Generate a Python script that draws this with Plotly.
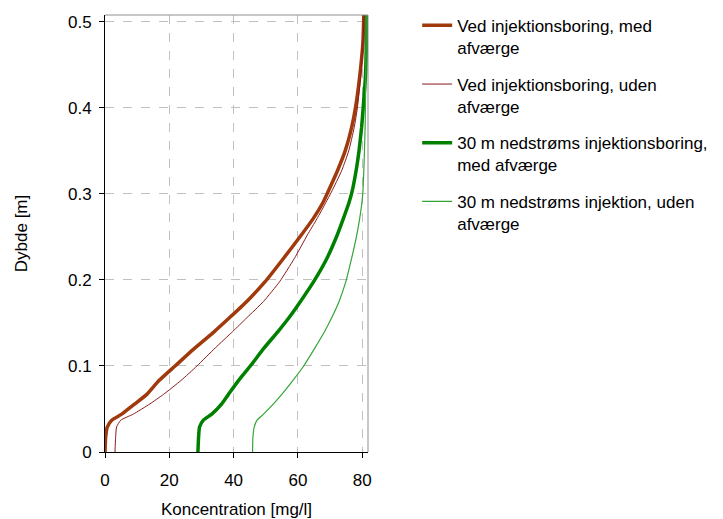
import plotly.graph_objects as go

# Depth below surface [m]
depth = [0.0, 0.017, 0.029, 0.037, 0.044, 0.056, 0.067, 0.083, 0.1, 0.121, 0.14,
         0.156, 0.175, 0.198, 0.225, 0.252, 0.271, 0.29, 0.302, 0.327, 0.35,
         0.377, 0.4, 0.436, 0.475, 0.508]

# Concentration [mg/l] at each depth
ved_med = [0.0, 0.2, 0.7, 2.1, 5.2, 9.3, 13.0, 16.8, 21.8, 28.0, 34.0,
           38.7, 44.1, 49.8, 55.5, 61.0, 64.7, 67.8, 69.3, 72.3, 74.7,
           76.7, 77.9, 79.2, 80.2, 80.5]
ved_uden = [3.1, 3.3, 3.6, 4.9, 8.8, 14.0, 18.2, 23.6, 28.6, 34.3, 39.7,
            44.1, 49.3, 54.3, 58.9, 62.9, 65.9, 68.7, 70.4, 73.6, 75.8,
            77.5, 78.5, 79.5, 80.2, 80.6]
ned_med = [28.9, 29.1, 29.4, 30.6, 33.2, 36.3, 38.4, 41.5, 45.2, 49.5, 53.8,
           57.2, 60.8, 64.9, 69.0, 72.2, 74.1, 75.9, 76.8, 78.1, 79.0,
           79.8, 80.3, 81.0, 81.3, 81.4]
ned_uden = [45.9, 46.0, 46.4, 47.3, 49.3, 52.4, 55.0, 58.4, 61.8, 65.3, 68.3,
            70.5, 72.8, 74.9, 76.7, 78.3, 79.2, 79.9, 80.2, 80.5, 80.7,
            80.9, 81.0, 81.1, 81.2, 81.2]

names = ["Ved injektionsboring, med<br>afværge",
         "Ved injektionsboring, uden<br>afværge",
         "30 m nedstrøms injektionsboring,<br>med afværge",
         "30 m nedstrøms injektion, uden<br>afværge"]
series = [ved_med, ved_uden, ned_med, ned_uden]
colors = ["#A03A0C", "#8B1A1A", "#008000", "#35A535"]
widths = [3.5, 1, 3.5, 1.2]

fig = go.Figure()
for i, (name, xs, c, w) in enumerate(zip(names, series, colors, widths)):
    fig.add_trace(go.Scatter(
        x=xs, y=depth, mode="lines", name=name,
        line=dict(color=c, width=w, shape="spline", smoothing=0.5),
        legendgroup=f"g{i}",
    ))

font = dict(family="Liberation Sans, Arial, sans-serif", size=17, color="#000000")

fig.update_layout(
    width=723, height=519,
    margin=dict(l=105, r=355, t=15, b=67),
    plot_bgcolor="white", paper_bgcolor="white",
    font=font,
    showlegend=True,
    legend=dict(
        xref="container", yref="container",
        x=0.577, y=0.985, xanchor="left", yanchor="top",
        valign="top", tracegroupgap=11.5,
        font=font, bgcolor="rgba(0,0,0,0)",
    ),
    xaxis=dict(
        range=[0, 81.8], tickvals=[0, 20, 40, 60, 80],
        showgrid=True, gridcolor="#C0C0C0", griddash="dash", gridwidth=1,
        showline=True, linecolor="#000000", linewidth=1,
        ticks="outside", ticklen=5, tickcolor="#000000",
        ticklabelstandoff=8,
        zeroline=False, automargin=False,
        title=dict(text="Koncentration [mg/l]", standoff=16, font=font),
    ),
    yaxis=dict(
        range=[0, 0.508], tickvals=[0, 0.1, 0.2, 0.3, 0.4, 0.5],
        ticktext=["0", "0.1", "0.2", "0.3", "0.4", "0.5"],
        showgrid=True, gridcolor="#C0C0C0", griddash="dash", gridwidth=1,
        showline=True, linecolor="#000000", linewidth=1,
        ticks="outside", ticklen=5, tickcolor="#000000",
        ticklabelstandoff=4,
        zeroline=False, automargin=False,
        title=dict(text="Dybde [m]", standoff=36, font=font),
    ),
)

# Grey frame on the top and right of the plot area
fig.add_shape(type="line", xref="paper", yref="paper", x0=0, x1=1, y0=1, y1=1,
              line=dict(color="#909090", width=1))
fig.add_shape(type="line", xref="paper", yref="paper", x0=1, x1=1, y0=0, y1=1,
              line=dict(color="#909090", width=1))

fig.write_html("out.html")
